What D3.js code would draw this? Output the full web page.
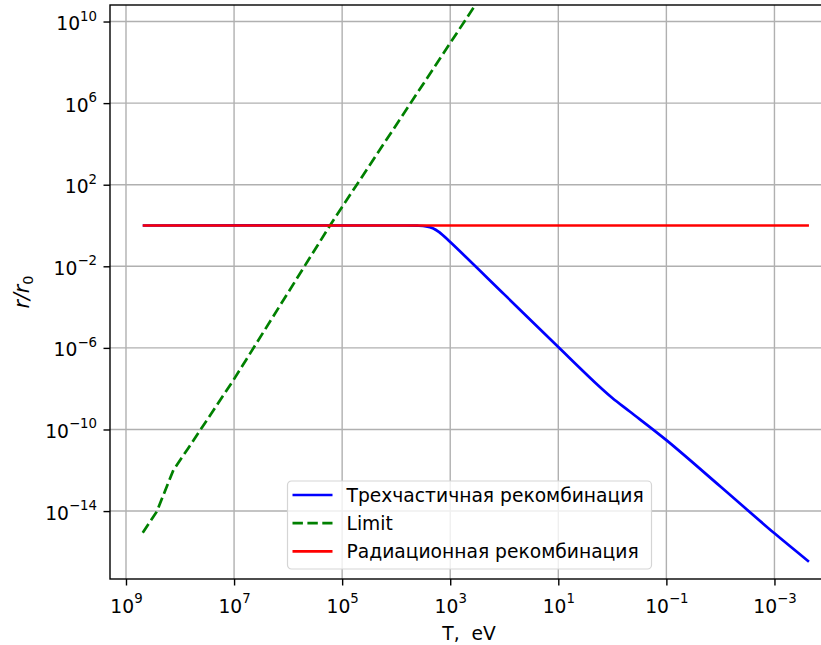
<!DOCTYPE html>
<meta charset="utf-8">
<style>
  body { margin: 0; background: #fff; }
  svg text { font-family: "DejaVu Sans", sans-serif; fill: #000; white-space: pre; }
</style>
<svg width="821" height="645"></svg>
<script src="https://d3js.org/d3.v7.min.js"></script>
<script>

// series (T in eV, r/r0)
var blueT = [4.9e8, 1e4, 4.0e3, 2.8e3, 2.1e3, 1.6e3, 1e3, 100, 10, 2, 1, 0.47, 0.1, 0.01, 1e-3, 2.3e-4];
var blueR = [1, 1, 0.98, 0.91, 0.74, 0.47, 0.155, 4.2e-4, 1.1e-6, 1.8e-8, 3.5e-9, 7.4e-10, 3.0e-11, 1.6e-13, 8.1e-16, 3.3e-17];

var greenT = [4.9e8, 2.7e8, 1.33e8, 7.1e7, 1.03e7, 1.6e5, 350, 100];
var greenR = [8.7e-16, 9.3e-15, 1.02e-12, 1.17e-11, 2.6e-8, 1.23, 6.0e10, 8.7e12];

var redT = [4.9e8, 2.3e-4];
var redR = [1, 1];

var xTicks = [1e9, 1e7, 1e5, 1e3, 1e1, 1e-1, 1e-3];
var yTicks = [1e10, 1e6, 1e2, 1e-2, 1e-6, 1e-10, 1e-14];

var labels = ["Трехчастичная рекомбинация", "Limit", "Радиационная рекомбинация"];

var svg = d3.select("svg"),
    pLeft = 110, pRight = 842, pTop = 5, pBottom = 579,
    fs = 18.7;

var x = d3.scaleLog().domain([Math.pow(10, 9.296), Math.pow(10, -4.25)]).range([pLeft, pRight]);
var y = d3.scaleLog().domain([Math.pow(10, -17.33), Math.pow(10, 10.81)]).range([pBottom, pTop]);

function zip(a, b) { return a.map(function(v, i) { return [v, b[i]]; }); }

svg.append("defs").append("clipPath").attr("id", "clip")
    .append("rect").attr("x", pLeft).attr("y", pTop)
    .attr("width", pRight - pLeft).attr("height", pBottom - pTop);

// grid
var grid = svg.append("g").attr("stroke", "#b0b0b0").attr("stroke-width", 1.4);
grid.selectAll(".gx").data(xTicks).enter().append("line")
    .attr("x1", function(d) { return x(d); }).attr("x2", function(d) { return x(d); })
    .attr("y1", pTop).attr("y2", pBottom);
grid.selectAll(".gy").data(yTicks).enter().append("line")
    .attr("y1", function(d) { return y(d); }).attr("y2", function(d) { return y(d); })
    .attr("x1", pLeft).attr("x2", pRight);

// lines
var line = d3.line()
    .x(function(d) { return x(d[0]); })
    .y(function(d) { return y(d[1]); })
    .curve(d3.curveCatmullRom);

var plot = svg.append("g").attr("clip-path", "url(#clip)").attr("fill", "none")
    .attr("stroke-width", 2.7);

plot.append("path").datum(zip(blueT, blueR)).attr("d", line).attr("stroke", "#0000ff");
plot.append("path").datum(zip(greenT, greenR)).attr("d", line.curve(d3.curveLinear))
    .attr("stroke", "#008000").attr("stroke-dasharray", "10.4,4.5");
plot.append("path").datum(zip(redT, redR)).attr("d", line).attr("stroke", "#ff0000");

// axes
function sup(sel) {
    sel.each(function(d) {
        var t = d3.select(this), e = Math.round(Math.log10(d));
        t.text(null);
        t.append("tspan").text("10");
        t.append("tspan").attr("dy", -9.5).attr("font-size", 13.3)
            .text(e < 0 ? "\u2212" + (-e) : e);
    });
}

var xAxis = svg.append("g").attr("transform", "translate(0," + pBottom + ")")
    .call(d3.axisBottom(x).tickValues(xTicks).tickSizeInner(6.5).tickSizeOuter(0).tickPadding(7));
var yAxis = svg.append("g").attr("transform", "translate(" + pLeft + ",0)")
    .call(d3.axisLeft(y).tickValues(yTicks).tickSizeInner(6.5).tickSizeOuter(0).tickPadding(7));

[xAxis, yAxis].forEach(function(a) {
    a.select(".domain").remove();
    a.selectAll(".tick line").attr("stroke", "#000").attr("stroke-width", 1.4);
    a.selectAll(".tick text").attr("font-size", fs).attr("font-family", "DejaVu Sans").call(sup);
});
xAxis.selectAll(".tick text").attr("dy", null).attr("y", 33.5);
yAxis.selectAll(".tick text").attr("dy", null).attr("y", 8).attr("x", -13);

// frame
svg.append("rect").attr("x", pLeft).attr("y", pTop)
    .attr("width", pRight - pLeft).attr("height", pBottom - pTop)
    .attr("fill", "none").attr("stroke", "#000").attr("stroke-width", 1.4);

// axis labels
svg.append("text").attr("x", 469).attr("y", 640).attr("text-anchor", "middle")
    .attr("font-size", fs).text("T,\u00a0\u00a0eV");

var yl = svg.append("text").attr("transform", "translate(29,292) rotate(-90)")
    .attr("text-anchor", "middle").attr("font-size", 20.5);
yl.append("tspan").attr("font-style", "italic").text("r/r");
yl.append("tspan").attr("dy", 4).attr("font-size", 14.5).text("0");

// legend
var lg = svg.append("g").attr("transform", "translate(287.5,481)");
lg.append("rect").attr("width", 364).attr("height", 88).attr("rx", 4)
    .attr("fill", "#fff").attr("fill-opacity", 0.8)
    .attr("stroke", "#d5d5d5").attr("stroke-width", 1.2);

var colors = ["#0000ff", "#008000", "#ff0000"];
var rows = lg.selectAll(".row").data(labels).enter().append("g")
    .attr("transform", function(d, i) { return "translate(0," + (14 + i * 28.2) + ")"; });
rows.append("line").attr("x1", 5).attr("x2", 45)
    .attr("stroke", function(d, i) { return colors[i]; })
    .attr("stroke-width", 2.7)
    .attr("stroke-dasharray", function(d, i) { return i === 1 ? "10.4,4.5" : null; });
rows.append("text").attr("x", 59).attr("y", 7).attr("font-size", fs)
    .text(function(d) { return d; });

</script>
